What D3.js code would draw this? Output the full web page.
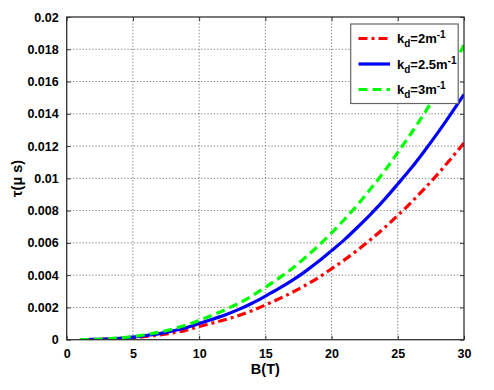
<!DOCTYPE html>
<html>
<head>
<meta charset="utf-8">
<script src="https://cdn.jsdelivr.net/npm/d3@7"></script>
<style>
  body { margin: 0; background: #fff; }
  svg { display: block; }
  text { font-family: "Liberation Sans", Arial, sans-serif; font-weight: bold; fill: #000; }
</style>
</head>
<body>
<svg id="chart" width="494" height="390"></svg>
<script>
// ---- data ----
const B = [1,2,3,4,5,6,7,8,9,10,11,12,13,14,15,16,17,18,19,20,21,22,23,24,25,26,27,28,29,30];
const tauKd2 = [0.000002,0.000013,0.000035,0.00007,0.00013,0.0002,0.0003,0.00042,0.00058,0.00082,
  0.00103,0.00125,0.0015,0.0018,0.00215,0.00252,0.00292,0.00336,0.00384,0.0044,
  0.00496,0.00558,0.00624,0.00694,0.0077,0.0085,0.00935,0.01025,0.0112,0.0122];
const tauKd25 = [0.000003,0.000017,0.000045,0.00009,0.00016,0.00026,0.00038,0.00054,0.00074,0.001,
  0.00127,0.00155,0.00188,0.00226,0.0027,0.00316,0.00366,0.00422,0.00484,0.00552,
  0.00622,0.007,0.00782,0.0087,0.00965,0.01062,0.01168,0.0128,0.01398,0.0152];
const tauKd3 = [0.000004,0.00002,0.000055,0.00011,0.0002,0.00032,0.00047,0.00066,0.0009,0.0012,
  0.00152,0.00187,0.00226,0.00272,0.00324,0.0038,0.0044,0.00508,0.00582,0.00662,
  0.00748,0.0084,0.0094,0.01045,0.0116,0.01278,0.01402,0.01534,0.01674,0.01825];
const xTicks = [0,5,10,15,20,25,30];
const yTicks = [0,0.002,0.004,0.006,0.008,0.01,0.012,0.014,0.016,0.018,0.02];
const yTickLabels = ["0","0.002","0.004","0.006","0.008","0.01","0.012","0.014","0.016","0.018","0.02"];
const seriesNames = ["2", "2.5", "3"];
const seriesColors = ["#ff0000", "#0000ff", "#00ff00"];
const seriesDash = ["9,4,3,4", null, "9,5"];
const seriesValues = [tauKd2, tauKd25, tauKd3];

// ---- layout ----
const svg = d3.select("#chart");
const L = 66.7, R = 464, T = 17, Bt = 339.7;
const x = d3.scaleLinear().domain([0,30]).range([L, R]);
const y = d3.scaleLinear().domain([0,0.02]).range([Bt, T]);

svg.append("rect").attr("x",0).attr("y",0).attr("width",494).attr("height",390).attr("fill","#fff");

// grid
const grid = svg.append("g");
grid.selectAll(".gx").data(xTicks.slice(1,-1)).join("line")
  .attr("x1", d => x(d)).attr("x2", d => x(d)).attr("y1", T).attr("y2", Bt)
  .attr("stroke", "#555").attr("stroke-width", 0.8).attr("stroke-dasharray", "1.2,2");
grid.selectAll(".gy").data(yTicks.slice(1,-1)).join("line")
  .attr("x1", L).attr("x2", R).attr("y1", d => y(d)).attr("y2", d => y(d))
  .attr("stroke", "#555").attr("stroke-width", 0.8).attr("stroke-dasharray", "1.2,2");

// axes with inward ticks
const fmtY = (d,i) => yTickLabels[i];
svg.append("g").attr("transform", `translate(0,${Bt})`)
  .call(d3.axisBottom(x).tickValues(xTicks).tickSizeInner(-4).tickSizeOuter(0).tickPadding(9))
  .call(g => g.select(".domain").remove())
  .call(g => g.selectAll("text").attr("font-size", 12.5).attr("font-family", "Liberation Sans, Arial").attr("font-weight","bold").attr("fill","#000"))
  .call(g => g.selectAll("line").attr("stroke", "#333"));
svg.append("g").attr("transform", `translate(${L},0)`)
  .call(d3.axisLeft(y).tickValues(yTicks).tickFormat(fmtY).tickSizeInner(-4).tickSizeOuter(0).tickPadding(8))
  .call(g => g.select(".domain").remove())
  .call(g => g.selectAll("text").attr("font-size", 12.5).attr("font-family", "Liberation Sans, Arial").attr("font-weight","bold").attr("fill","#000"))
  .call(g => g.selectAll("line").attr("stroke", "#333"));
svg.append("g").attr("transform", `translate(0,${T})`)
  .call(d3.axisTop(x).tickValues(xTicks).tickSizeInner(-4).tickSizeOuter(0).tickFormat(""))
  .call(g => g.select(".domain").remove())
  .call(g => g.selectAll("line").attr("stroke", "#333"));
svg.append("g").attr("transform", `translate(${R},0)`)
  .call(d3.axisRight(y).tickValues(yTicks).tickSizeInner(-4).tickSizeOuter(0).tickFormat(""))
  .call(g => g.select(".domain").remove())
  .call(g => g.selectAll("line").attr("stroke", "#333"));

// curves
const line = d3.line().x((d,i) => x(B[i])).y(d => y(d)).curve(d3.curveMonotoneX);
const clip = svg.append("clipPath").attr("id","clipP").append("rect")
  .attr("x", L).attr("y", T).attr("width", R-L).attr("height", Bt-T);
const curves = svg.append("g").attr("clip-path", "url(#clipP)");
seriesValues.forEach((vals, k) => {
  curves.append("path").datum(vals)
    .attr("d", line).attr("fill", "none")
    .attr("stroke", seriesColors[k]).attr("stroke-width", 3.2)
    .attr("stroke-dasharray", seriesDash[k]);
});

// box
svg.append("rect").attr("x", L).attr("y", T).attr("width", R-L).attr("height", Bt-T)
  .attr("fill", "none").attr("stroke", "#333").attr("stroke-width", 1.3);

// legend
const lg = svg.append("g");
lg.append("rect").attr("x", 350.7).attr("y", 24).attr("width", 107.5).attr("height", 79.5)
  .attr("fill", "#fff").attr("stroke", "#666").attr("stroke-width", 1.2);
const rowsY = [38.5, 64, 89.5];
seriesNames.forEach((nm, k) => {
  lg.append("line").attr("x1", 358.5).attr("x2", 390).attr("y1", rowsY[k]).attr("y2", rowsY[k])
    .attr("stroke", seriesColors[k]).attr("stroke-width", 3.2).attr("stroke-dasharray", seriesDash[k]);
  const t = lg.append("text").attr("x", 397).attr("y", rowsY[k] + 4.5).attr("font-size", 13);
  t.append("tspan").text("k");
  t.append("tspan").attr("dy", 4).attr("font-size", 10).text("d");
  t.append("tspan").attr("dy", -4).text("=" + nm + "m");
  t.append("tspan").attr("dy", -5).attr("font-size", 10).text("-1");
});

// axis labels
svg.append("text").attr("x", (L+R)/2).attr("y", 374).attr("text-anchor", "middle")
  .attr("font-size", 14.5).text("B(T)");
svg.append("text").attr("transform", `translate(22,${(T+Bt)/2}) rotate(-90)`)
  .attr("text-anchor", "middle").attr("font-size", 14.5).text("τ(μ s)");
</script>
</body>
</html>
